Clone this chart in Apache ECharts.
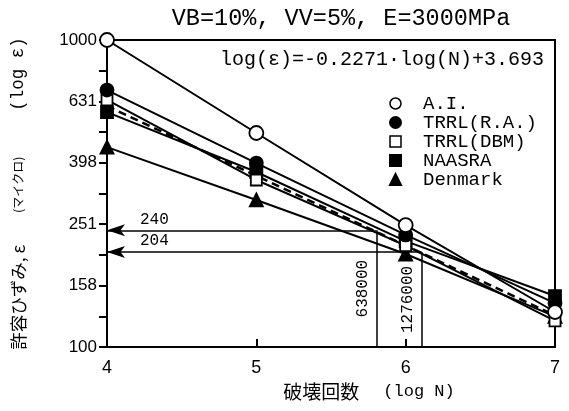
<!DOCTYPE html>
<html><head><meta charset="utf-8">
<script src="https://cdn.jsdelivr.net/npm/echarts@6/dist/echarts.min.js"></script>
<style>html,body{margin:0;padding:0;background:#fff}#c{width:569px;height:411px}</style>
</head><body><div id="c"></div>
<script>
// log N (cycles to failure)
var logN = [4, 5, 6, 7];
// log(strain, micro)
var aiVals      = [3.000, 2.697, 2.397, 2.114];
var trrlRAVals  = [2.837, 2.599, 2.365, 2.143];
var trrlDBMVals = [2.805, 2.544, 2.330, 2.085];
var naasraVals  = [2.765, 2.570, 2.345, 2.166];
var denmarkVals = [2.651, 2.479, 2.303, 2.100];
// regression line (dashed) endpoints at logN 4 and 7
var regrN = [4, 7];
var regrVals = [2.785, 2.103];
// annotations
var annotLogN = [5.805, 6.106];
var annotStrain = [240, 204];
var annotCycles = ['638000', '1276000'];
var yTickVals = [2.0, 2.2, 2.4, 2.6, 2.8, 3.0];
var yTickLabels = ['100', '158', '251', '398', '631', '1000'];

var MONO = '"Liberation Mono", "DejaVu Sans Mono", monospace';
var SANS = '"Liberation Sans", Arial, sans-serif';
function pairs(xs, ys){ return xs.map(function(x,i){return [x, ys[i]];}); }

var chart = echarts.init(document.getElementById('c'), null, {renderer:'canvas'});
var lineBase = {type:'line', lineStyle:{color:'#000', width:2}, showSymbol:true, z:3, animation:false};
function ser(name, vals, symbol, size, filled){
  return Object.assign({}, lineBase, {
    name:name, data:pairs(logN, vals), symbol:symbol, symbolSize:size,
    itemStyle:{color: filled ? '#000' : '#fff', borderColor:'#000', borderWidth:1.8, opacity:1}
  });
}
var markData = [];
annotLogN.forEach(function(n, i){
  var ly = Math.log10(annotStrain[i]);
  markData.push([{coord:[n, ly], symbol:'none', label:{show:true, formatter:String(annotStrain[i]), position:'insideEndTop', distance:[33,3]}},
                 {coord:[4, ly], symbol:'arrow', symbolSize:[9,18]}]);
  markData.push([{coord:[n, 2], symbol:'none', label:{show:true, formatter:annotCycles[i], position:'insideMiddleTop', distance:6}},
                 {coord:[n, ly], symbol:'none'}]);
});

chart.setOption({
  animation:false,
  backgroundColor:'#fff',
  title:{text:'VB=10%, VV=5%, E=3000MPa', left:336, textAlign:'center', top:2,
    textStyle:{fontFamily:MONO, fontSize:23.5, fontWeight:'normal', color:'#000'}},
  graphic:[{type:'text', left:220, top:50, style:{text:'log(ε)=-0.2271·log(N)+3.693', font:'20px ' + MONO, fill:'#000'}}],
  legend:{orient:'vertical', left:384, top:89, itemGap:0, itemWidth:11, itemHeight:11,
    textStyle:{fontFamily:MONO, fontSize:19, lineHeight:19, color:'#000', padding:[0,0,0,17]},
    data:[
      {name:'A.I.', icon:'circle', itemStyle:{color:'#fff', borderColor:'#000', borderWidth:1.5}},
      {name:'TRRL(R.A.)', icon:'circle', itemStyle:{color:'#000', borderColor:'#000'}},
      {name:'TRRL(DBM)', icon:'rect', itemStyle:{color:'#fff', borderColor:'#000', borderWidth:1.5}},
      {name:'NAASRA', icon:'rect', itemStyle:{color:'#000', borderColor:'#000'}},
      {name:'Denmark', icon:'triangle', itemStyle:{color:'#000', borderColor:'#000'}}
    ]},
  grid:{left:107, right:14, top:40, bottom:64, show:true, borderColor:'#000', borderWidth:2, backgroundColor:'transparent'},
  xAxis:{type:'value', min:4, max:7, interval:1,
    name:'{a|破壊回数}{g| }{b|(log N)}', nameLocation:'middle', nameGap:34,
    nameTextStyle:{padding:[0,0,0,76], rich:{
      a:{fontFamily:'"Noto Sans CJK JP"', fontSize:19, color:'#000'},
      g:{width:24},
      b:{fontFamily:MONO, fontSize:17, color:'#000'}}},
    axisLine:{lineStyle:{color:'#000', width:2}},
    axisTick:{show:true, inside:true, length:8, lineStyle:{color:'#000', width:2}},
    axisLabel:{fontFamily:SANS, fontSize:18, color:'#000', margin:12},
    splitLine:{show:false}},
  yAxis:{type:'value', min:2, max:3, interval:0.1,
    name:'{a|許容ひずみ, ε}{g| }{b|(マイクロ)}{h| }{c|(log ε)}', nameLocation:'middle', nameGap:80,
    nameTextStyle:{rich:{
      a:{fontFamily:'"Noto Sans CJK JP"', fontSize:17.5, color:'#000'},
      g:{width:32},
      b:{fontFamily:'"Noto Sans CJK JP"', fontSize:12, color:'#000'},
      h:{width:46},
      c:{fontFamily:MONO, fontSize:17.5, color:'#000'}}},
    axisLine:{lineStyle:{color:'#000', width:2}},
    axisTick:{show:true, length:8, lineStyle:{color:'#000', width:2}},
    axisLabel:{fontFamily:SANS, fontSize:17, color:'#000', margin:10,
      formatter:function(v){
        for (var i=0;i<yTickVals.length;i++){ if (Math.abs(v - yTickVals[i])<1e-6) return yTickLabels[i]; }
        return '';
      }},
    splitLine:{show:false}},
  series:[
    Object.assign({}, lineBase, {name:'regression', data:pairs(regrN, regrVals), symbol:'none',
      lineStyle:{color:'#000', width:2.5, type:[8,5]}, z:2}),
    ser('Denmark', denmarkVals, 'triangle', 13, true),
    ser('NAASRA', naasraVals, 'rect', 12, true),
    ser('TRRL(DBM)', trrlDBMVals, 'rect', 11, false),
    ser('TRRL(R.A.)', trrlRAVals, 'circle', 13, true),
    ser('A.I.', aiVals, 'circle', 14, false),
    {type:'line', name:'annot', data:[], silent:true,
      markLine:{silent:true, animation:false, symbol:['none','none'],
        lineStyle:{color:'#000', width:1.5, type:'solid'},
        label:{fontFamily:MONO, fontSize:16, color:'#000'},
        data:markData}}
  ]
});
</script></body></html>
